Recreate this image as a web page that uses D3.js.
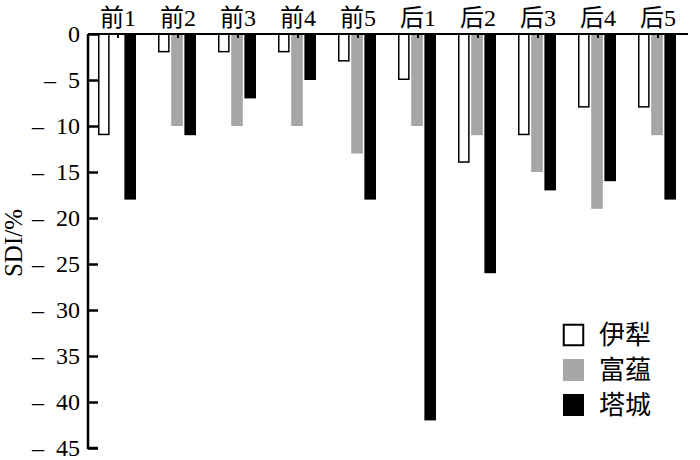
<!DOCTYPE html>
<html>
<head>
<meta charset="utf-8">
<script src="https://cdn.jsdelivr.net/npm/d3@7"></script>
<style>
  body { margin: 0; background: #fff; }
  svg text { font-family: "Liberation Serif", "Noto Sans CJK SC", serif !important; fill: #000; }
</style>
</head>
<body>
<div id="chart"></div>
<script>

// data
var categories = ["前1", "前2", "前3", "前4", "前5", "后1", "后2", "后3", "后4", "后5"];
var seriesNames = ["伊犁", "富蕴", "塔城"];
var yili   = [-11, -2, -2, -2, -3, -5, -14, -11, -8, -8];
var fuyun  = [0, -10, -10, -10, -13, -10, -11, -15, -19, -11];
var tacheng = [-18, -11, -7, -5, -18, -42, -26, -17, -16, -18];
var yTicks = [0, -5, -10, -15, -20, -25, -30, -35, -40, -45];

var seriesValues = [yili, fuyun, tacheng];
var fills = ["#fff", "#a6a6a6", "#000"];
var strokes = ["#000", "none", "none"];

var margin = {top: 34, right: 12, bottom: 12, left: 88},
    width = 700 - margin.left - margin.right,
    height = 448 - margin.top;

var svg = d3.select("#chart").append("svg")
    .attr("width", 700)
    .attr("height", 460)
  .append("g")
    .attr("transform", "translate(" + margin.left + "," + margin.top + ")");

var x = d3.scaleBand().domain(categories).range([0, width]);
var y = d3.scaleLinear().domain([0, -45]).range([0, height]);
var xSub = d3.scaleBand().domain(d3.range(3)).range([-19, 19]).paddingInner(0.12);

// bars
seriesValues.forEach(function(vals, s) {
  svg.append("g").selectAll("rect")
      .data(vals)
    .enter().append("rect")
      .attr("x", function(d, i) { return x(categories[i]) + x.bandwidth() / 2 - 1 + xSub(s) + (s == 0 ? 0.75 : 0); })
      .attr("y", y(0))
      .attr("width", xSub.bandwidth() - (s == 0 ? 1.5 : 0))
      .attr("height", function(d) { return Math.max(0, y(d) - y(0) - (s == 0 ? 0.75 : 0)); })
      .attr("fill", fills[s])
      .attr("stroke", strokes[s])
      .attr("stroke-width", 1.5);
});

// top axis (categories)
var xAxis = svg.append("g")
    .call(d3.axisTop(x).tickSize(-4).tickPadding(8));
xAxis.select(".domain").remove();
xAxis.selectAll(".tick line").attr("stroke", "#000").attr("stroke-width", 2);
xAxis.selectAll("text")
    .style("font-size", "24px")
    .attr("dy", "0em");
svg.append("line")
    .attr("x1", 0).attr("x2", width)
    .attr("y1", 0).attr("y2", 0)
    .attr("stroke", "#000").attr("stroke-width", 2);

// left axis
var yAxis = svg.append("g")
    .call(d3.axisLeft(y).tickValues(yTicks).tickSize(-10).tickPadding(8)
      .tickFormat(function(d) { return d == 0 ? "0" : "\u2013\u2002" + Math.abs(d); }));
yAxis.select(".domain").attr("stroke-width", 2.5).attr("d", "M0,0V" + height + "H10");
yAxis.selectAll(".tick line").attr("stroke-width", 2.5);
yAxis.selectAll("text").style("font-size", "24px").attr("dy", "0.33em");

// text label for the y axis
svg.append("text")
    .attr("transform", "rotate(-90)")
    .attr("x", -(243 - margin.top))
    .attr("y", -margin.left + 22)
    .style("text-anchor", "middle")
    .style("font-size", "25px")
    .text("SDI/%");

// legend
var legend = svg.append("g")
    .attr("transform", "translate(" + (563 - margin.left) + "," + (324 - margin.top) + ")");
seriesNames.forEach(function(name, s) {
  legend.append("rect")
      .attr("x", s == 0 ? 0.75 : 0)
      .attr("y", s * 35 + (s == 0 ? 0.75 : 0))
      .attr("width", s == 0 ? 19.5 : 21)
      .attr("height", s == 0 ? 20.5 : 22)
      .attr("fill", fills[s])
      .attr("stroke", s == 0 ? "#000" : "none")
      .attr("stroke-width", 2);
  legend.append("text")
      .attr("x", 36)
      .attr("y", s * 35 + 11)
      .attr("dy", "0.35em")
      .style("font-size", "26px")
      .text(name);
});

</script>
</body>
</html>
